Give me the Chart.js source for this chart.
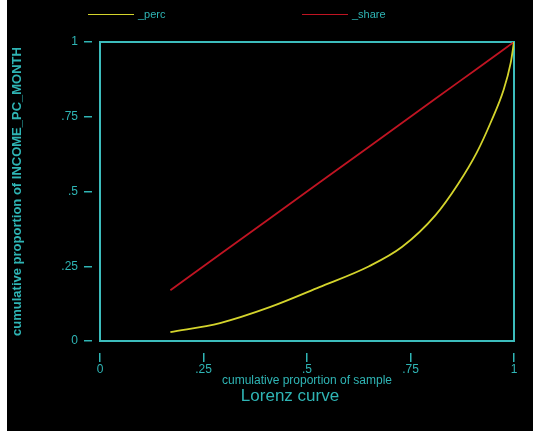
<!DOCTYPE html>
<html>
<head>
<meta charset="utf-8">
<script src="https://cdn.jsdelivr.net/npm/chart.js@4/dist/chart.umd.min.js"></script>
<style>
  html, body { margin: 0; padding: 0; background: #fff; }
  #wrap { position: absolute; left: 7px; top: 0; width: 526px; height: 431px; background: #000; }
  #chart { position: absolute; left: 0; top: 0; }
  .leg { position: absolute; top: 8px; font: 11px "Liberation Sans", Arial, sans-serif; color: #2fb5b5; }
  .leg span { position: absolute; top: 6px; width: 46px; height: 0; border-top: 1.5px solid; }
  .leg b { position: absolute; left: 50px; top: 0; font-weight: normal; white-space: nowrap; }
  #caption { position: absolute; left: 228px; top: 386px; width: 110px; text-align: center;
    font: 17px "Liberation Sans", Arial, sans-serif; color: #2fb5b5; }
</style>
</head>
<body>
<div id="wrap">
  <canvas id="chart" width="526" height="431"></canvas>
  <div class="leg" style="left:81px"><span style="border-color:#d4d42c"></span><b>_perc</b></div>
  <div class="leg" style="left:295px"><span style="border-color:#c01422"></span><b>_share</b></div>
  <div id="caption">Lorenz curve</div>
</div>
<script>
// Lorenz curve data
const sampleShare = [0.17, 0.29, 0.41, 0.53, 0.65, 0.73, 0.81, 0.865, 0.91, 0.945, 0.975, 0.992, 1];
const percValues = [0.03, 0.06, 0.113, 0.18, 0.25, 0.315, 0.42, 0.525, 0.63, 0.735, 0.84, 0.93, 1];
const shareValues = [0.17, 0.29, 0.41, 0.53, 0.65, 0.73, 0.81, 0.865, 0.91, 0.945, 0.975, 0.992, 1];
const tickValues = [0, 0.25, 0.5, 0.75, 1];
const tickLabels = ["0", ".25", ".5", ".75", "1"];

const teal = "#2fb5b5";
const boxColor = "#3cbcbc";

function tickText(value) {
  const i = tickValues.indexOf(Math.round(value * 100) / 100);
  return i >= 0 ? tickLabels[i] : "";
}

// invisible axes used only to draw the frame and leave a gap before the ticks
function frameAxis(position, size) {
  return {
    type: "linear",
    position: position,
    min: 0,
    max: 1,
    weight: 0,
    grid: { display: true, drawOnChartArea: false, drawTicks: false },
    ticks: { display: false },
    border: { display: true, color: boxColor, width: 2 },
    afterFit: (s) => {
      if (s.isHorizontal()) s.height = size;
      else s.width = size;
    },
  };
}

const ctx = document.getElementById("chart").getContext("2d");
const lorenzChart = new Chart(ctx, {
  type: "line",
  data: {
    datasets: [
      {
        label: "_perc",
        data: sampleShare.map((x, i) => ({ x: x, y: percValues[i] })),
        borderColor: "#d4d42c",
        borderWidth: 1.8,
        pointRadius: 0,
        cubicInterpolationMode: "monotone",
        xAxisID: "x",
        yAxisID: "y",
      },
      {
        label: "_share",
        data: sampleShare.map((x, i) => ({ x: x, y: shareValues[i] })),
        borderColor: "#c01422",
        borderWidth: 1.8,
        pointRadius: 0,
        xAxisID: "x",
        yAxisID: "y",
      },
    ],
  },
  options: {
    responsive: false,
    animation: false,
    layout: { padding: { left: 0, right: 19, top: 42, bottom: 43 } },
    plugins: {
      legend: { display: false },
      tooltip: { enabled: false },
    },
    scales: {
      x: {
        type: "linear",
        position: "bottom",
        weight: 1,
        min: 0,
        max: 1,
        afterBuildTicks: (s) => { s.ticks = tickValues.map((v) => ({ value: v })); },
        ticks: {
          color: teal,
          padding: 0,
          maxRotation: 0,
          font: { family: "Liberation Sans", size: 12 },
          callback: tickText,
        },
        grid: { drawOnChartArea: false, tickLength: 9, tickColor: teal, lineWidth: 1.5 },
        border: { display: false },
        title: {
          display: true,
          text: "cumulative proportion of sample",
          color: teal,
          padding: { top: 0, bottom: 0 },
          font: { family: "Liberation Sans", size: 12 },
        },
        afterFit: (s) => { s.height = 35; },
      },
      xgap: frameAxis("bottom", 12),
      xtop: frameAxis("top", 0),
      y: {
        type: "linear",
        position: "left",
        weight: 1,
        min: 0,
        max: 1,
        afterBuildTicks: (s) => { s.ticks = tickValues.map((v) => ({ value: v })); },
        ticks: {
          color: teal,
          padding: 6,
          font: { family: "Liberation Sans", size: 12 },
          callback: tickText,
        },
        grid: { drawOnChartArea: false, tickLength: 8, tickColor: teal, lineWidth: 1.5 },
        border: { display: false },
        title: {
          display: true,
          text: "cumulative proportion of INCOME_PC_MONTH",
          color: teal,
          padding: { top: 3, bottom: 0 },
          font: { family: "Liberation Sans", size: 13, weight: "bold" },
        },
        afterFit: (s) => { s.width = 85; },
      },
      ygap: frameAxis("left", 8),
      yright: frameAxis("right", 0),
    },
  },
});
</script>
</body>
</html>
